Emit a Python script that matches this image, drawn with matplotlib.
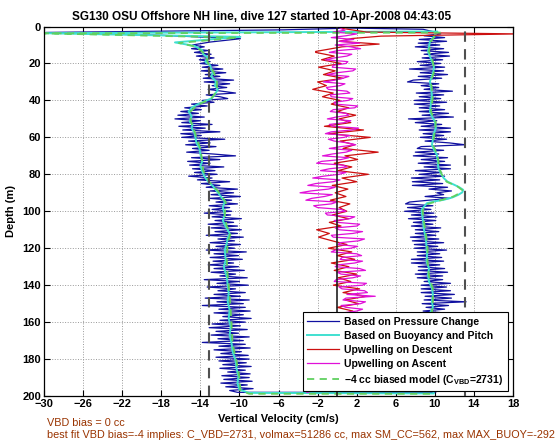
import numpy as np
import matplotlib
matplotlib.use("Agg")
import matplotlib.pyplot as plt

plt.rcParams['font.family'] = ['Liberation Sans', 'DejaVu Sans']
plt.rcParams['mathtext.fontset'] = 'custom'
plt.rcParams['mathtext.rm'] = 'Liberation Sans:bold'
plt.rcParams['mathtext.it'] = 'Liberation Sans:bold'
plt.rcParams['mathtext.bf'] = 'Liberation Sans:bold'

title = "SG130 OSU Offshore NH line, dive 127 started 10-Apr-2008 04:43:05"
note1 = "VBD bias = 0 cc"
note2 = ("best fit VBD bias=-4 implies: C_VBD=2731, volmax=51286 cc, "
         "max SM_CC=562, max MAX_BUOY=-292")
labels = ["Based on Pressure Change", "Based on Buoyancy and Pitch",
          "Upwelling on Descent", "Upwelling on Ascent",
          "\u22124 cc biased model (C$_{\\mathrm{VBD}}$=2731)"]
xticks = list(range(-30, 19, 4))
yticks = list(range(0, 201, 20))
bias_limit = 13.1

# pressure-change speed, descent (depth m, cm/s)
top_desc_d = [1.0, 1.8, 3.2, 4.8, 6.6, 8.4]
top_desc_v = [0.3, -5.5, -29.8, -17.8, -9.9, -13.0]
desc_d = list(range(10, 199))
desc_v = [-14.8, -13.6, -14.9, -13.2, -14.6, -12.9, -14.4, -12.6, -14.1, -13.0,
          -14.0, -12.2, -13.8, -11.7, -13.9, -11.4, -13.5, -12.0, -13.7, -10.6,
          -13.6, -11.0, -12.8, -11.3, -13.2, -11.8, -10.4, -13.4, -12.0, -11.2,
          -13.8, -12.6, -14.9, -13.3, -15.6, -13.9, -16.0, -14.2, -16.3, -13.6,
          -16.6, -14.0, -15.9, -12.8, -16.2, -13.5, -15.8, -12.0, -16.0, -13.9,
          -15.9, -11.5, -15.2, -13.0, -15.5, -12.4, -14.8, -13.1, -15.4, -12.7,
          -10.4, -14.9, -12.0, -15.3, -13.0, -15.1, -11.6, -14.8, -12.5, -14.6,
          -12.3, -15.2, -12.8, -14.3, -11.0, -13.9, -12.0, -13.4, -10.2, -13.0,
          -10.6, -12.9, -9.9, -13.0, -10.8, -12.4, -10.2, -13.1, -11.0, -12.8,
          -10.8, -13.6, -10.9, -12.8, -9.8, -12.5, -10.6, -13.2, -10.2, -12.9,
          -9.8, -12.5, -10.2, -13.4, -9.6, -12.2, -10.5, -13.0, -9.9, -12.4,
          -10.5, -13.4, -9.3, -12.6, -10.1, -13.0, -9.7, -12.7, -10.6, -13.2,
          -10.1, -12.6, -9.5, -12.9, -10.4, -12.0, -9.2, -13.6, -10.0, -12.3,
          -9.1, -13.3, -10.4, -12.2, -9.4, -12.6, -9.9, -13.5, -9.0, -12.3,
          -9.6, -13.8, -9.4, -12.1, -8.9, -12.6, -9.6, -11.7, -8.8, -12.0,
          -9.4, -12.8, -9.9, -13.1, -9.2, -12.4, -10.1, -12.9, -9.0, -12.2,
          -9.6, -13.8, -9.4, -12.1, -8.9, -12.6, -9.8, -11.9, -9.1, -12.4,
          -9.0, -12.1, -9.3, -11.7, -8.8, -12.0, -9.4, -11.2, -8.9, -11.8,
          -9.0, -11.6, -8.7, -11.9, -9.2, -11.4, -8.6, -11.0, -10.2]

# pressure-change speed, ascent (listed top to bottom)
asc_d = [0.8, 1.5, 3.0] + list(range(4, 199))
asc_v = [1.0, 8.8, 10.0,
         10.6, 8.9, 11.0, 8.4, 11.2, 8.3, 10.5, 8.0, 10.9, 8.6,
         11.4, 8.9, 11.5, 8.7, 10.8, 8.2, 10.6, 8.5, 11.0, 7.4,
         10.9, 8.5, 11.3, 8.3, 10.7, 7.8, 7.2, 10.4, 8.6, 10.4,
         8.9, 11.8, 8.1, 10.9, 8.4, 10.6, 7.9, 11.2, 7.9, 10.5,
         8.4, 11.0, 8.4, 11.4, 8.7, 11.9, 7.3, 10.2, 8.0, 10.7,
         8.6, 11.6, 8.4, 11.6, 8.8, 10.9, 8.5, 11.2, 9.0, 11.5,
         13.1, 8.6, 8.2, 10.9, 8.0, 10.4, 7.8, 11.3, 8.6, 11.0,
         8.3, 11.6, 8.9, 11.6, 8.0, 10.7, 8.4, 11.0, 7.6, 10.5,
         7.7, 10.8, 7.7, 11.3, 9.4, 11.7, 10.2, 10.9, 9.0, 11.6,
         9.4, 7.4, 7.0, 9.8, 7.2, 9.6, 6.9, 9.9, 7.6, 10.2,
         7.3, 10.1, 7.8, 9.8, 7.6, 10.6, 8.0, 10.4, 8.0, 10.1,
         7.5, 10.4, 7.7, 10.9, 7.9, 10.3, 7.9, 11.2, 8.2, 10.5,
         8.2, 10.7, 7.6, 10.9, 7.6, 10.5, 8.3, 11.0, 8.3, 11.3,
         8.0, 10.8, 8.2, 10.8, 8.9, 11.6, 8.6, 11.2, 8.6, 11.6,
         8.6, 12.0, 9.0, 11.7, 8.9, 13.2, 8.7, 11.4, 9.1, 11.0,
         8.8, 10.9, 8.6, 11.2, 8.9, 10.7, 8.5, 11.1, 9.0, 10.8,
         8.7, 11.0, 9.1, 10.6, 8.8, 10.9, 9.2, 10.5, 9.0, 10.8,
         8.6, 11.1, 8.9, 10.7, 8.8, 11.2, 9.0, 10.6, 8.7, 11.0,
         9.1, 10.6, 8.8, 10.9, 9.2, 10.5, 8.9, 10.8, 9.0, 10.6,
         9.2, 10.5, 9.0, 10.4, 10.0]

# buoyancy/pitch speed
cyan_desc_d = [2.7, 3.6, 5.6, 8.6, 10.5, 12.8, 15, 17, 19, 21, 23, 25, 27, 29.7,
               32, 34.2, 36.5, 38.8, 40.5, 42.4, 44, 46, 48.5, 51.4, 53, 55,
               57.5, 60.4, 63, 65.8, 69, 73, 75.5, 78.4, 81, 83.9, 86.5, 89.3,
               92, 94.7, 98, 101.9, 105, 108.4, 112, 114.5, 117.4, 121, 126.4,
               130, 135.5, 140, 144.5, 149, 153.5, 158, 162.5, 167, 171.6, 176,
               180.6, 185, 189.6, 193, 196.5, 198.3]
cyan_desc_v = [10.2, -30.0, -9.9, -16.6, -14.6, -13.8, -13.7, -13.2, -13.5, -13.0,
               -12.9, -12.7, -12.9, -12.4, -12.5, -12.2, -12.5, -12.8, -13.6,
               -14.4, -14.9, -15.2, -14.9, -15.1, -14.8, -14.9, -14.6, -14.5,
               -14.4, -14.1, -14.0, -13.8, -14.0, -13.8, -13.6, -13.2, -12.7,
               -12.3, -11.9, -11.5, -11.7, -11.5, -11.7, -11.4, -11.0, -11.2,
               -11.3, -11.5, -11.4, -11.6, -11.3, -11.2, -11.1, -11.2, -11.0,
               -11.1, -10.9, -11.0, -10.8, -10.7, -10.4, -10.3, -10.1, -10.2,
               -10.0, -9.0]
cyan_asc_d = [198.6, 194, 188, 182, 176, 170, 164, 158, 155.1, 152, 148.8, 145,
              141.6, 138, 134.4, 131, 127.2, 123.5, 120, 116, 112.7, 109, 105.5,
              102, 99.2, 97.4, 95.6, 94.6, 93.8, 92.5, 91.1, 89.8, 88.4, 87,
              85.7, 84, 82, 79.3, 76.6, 73, 69.4, 66.7, 64, 61.3, 58.6, 55,
              51.4, 48.7, 46, 41.5, 37, 33.3, 29.7, 27, 24.3, 21.6, 18.9, 16.2,
              13.5, 10.8, 8.1, 6.3, 4.5, 3.2]
cyan_asc_v = [9.9, 9.7, 9.8, 9.6, 9.8, 9.6, 9.7, 9.5, 9.5, 9.8, 9.7, 9.8, 9.7,
              9.4, 9.3, 9.4, 9.15, 9.2, 9.15, 9.1, 9.0, 8.85, 8.8, 8.7, 8.65,
              8.9, 9.2, 10.0, 10.9, 11.8, 12.4, 12.8, 12.9, 12.5, 12.0, 11.3,
              10.9, 10.6, 10.35, 10.3, 10.2, 9.9, 9.7, 9.8, 9.85, 10.1, 10.0,
              9.7, 9.5, 9.6, 9.7, 9.6, 9.5, 9.7, 9.85, 9.9, 9.7, 9.5, 9.3, 9.4,
              9.5, 9.8, 10.0, 10.3]

# upwelling on descent
red_d = [1.0, 3.0, 4.0, 5.2, 6.5, 8.0, 9.5, 11.0, 13.5] + list(range(14, 155, 2)) + \
        [156, 160, 164, 168, 172, 176, 178, 180, 184, 188, 192, 196]
red_v = [0.5, 3.0, 18.5, 4.5, 1.5, 0.2, 4.3, 0.5, -2.2,
         -2.2, -0.3, -1.6, 0.4, -1.9, -0.2, -1.4, 0.6, -2.0, -1.1,
         -2.5, -0.4, -1.5, 0.3, -0.6, 1.2, 0.0, 1.9, 0.2, 1.4,
         -1.3, 2.7, -0.9, 3.4, 0.3, 1.8, 0.6, 4.2, 0.8, 2.1,
         -0.3, 1.5, 0.1, 3.2, 0.5, 2.0, -0.5, 1.1, -0.2, 0.9,
         -0.7, 1.3, 0.2, 1.0, -0.5, 1.2, -0.8, 0.4, -2.1, -0.8,
         -1.9, -0.5, 1.0, -0.9, 1.5, 0.0, 1.8, -0.6, 1.2, -0.3,
         2.0, 0.1, 1.4, -0.4, 2.3, 0.6, 3.0, 0.8, 2.2, 0.0, 1.6,
         0.5, 1.0, 0.2, 0.8, -0.5, -1.5, -3.3, -1.0, 0.5, 0.0, 0.6, 0.2]

# upwelling on ascent
mag_d = list(range(1, 157)) + [160, 164, 168, 172, 176, 180, 184, 188, 192, 196, 198]
mag_v = [0.3, 0.8, -0.4, 2.0, 0.9, -0.6, 1.7, 0.2, 2.3, -0.2,
         1.4, 2.4, 0.1, -0.8, 1.5, 1.0, -0.3, -1.2, 1.1, 0.9,
         -0.4, -0.5, 1.9, 1.6, 0.0, -1.0, 1.2, 0.6, -0.2, -1.4,
         0.8, 0.3, -1.1, -0.9, 1.0, 1.3, -0.7, -0.6, 1.6, 1.1,
         -0.3, -0.2, 2.1, 1.8, -0.4, -0.7, 0.9, 1.2, -0.1, -1.0,
         1.4, 0.8, -0.8, -0.4, 2.2, 1.5, -0.6, -1.2, 1.3, 0.7,
         -0.9, -0.3, 1.1, 1.9, 0.4, -0.8, 1.5, 0.9, -0.5, -1.5,
         1.2, 0.4, -1.6, -2.1, 0.6, 1.0, -0.8, -1.7, 0.9, 0.2,
         -1.4, -2.5, 0.3, -0.4, -2.2, -3.0, -0.2, -0.9, -2.7, -3.8,
         -0.5, -1.3, -2.6, -3.2, 0.0, -0.6, -2.4, -2.0, 0.4, 0.9,
         -1.2, -1.0, 1.8, 1.3, -0.3, 0.0, 2.3, 2.0, -0.2, 0.2,
         2.6, 1.6, -0.6, -0.4, 2.8, 2.2, 0.3, 0.1, 2.1, 1.4,
         -0.2, -0.6, 2.0, 2.5, 0.5, 0.3, 2.6, 1.8, 0.1, -0.2,
         2.3, 2.9, 0.0, 0.4, 2.4, 1.6, -0.1, -0.3, 3.0, 2.6,
         0.2, 0.5, 2.8, 3.1, 1.0, 3.9, 0.9, 0.6, 2.9, 2.4,
         0.4, 0.9, 2.6, 2.0, 0.6, 0.2,
         1.5, 0.3, 1.2, -0.2, 1.0, 0.0, 0.8, -0.5, 0.6, -1.5, -3.1]

# -4 cc biased model
model_d = [3.3, 3.7, 6.0, 8.9, 11, 15, 20, 25, 30, 35, 39, 42.5, 46, 51, 55, 60,
           66, 73, 78, 84, 89, 95, 102, 108, 112, 117, 126, 135, 145, 153, 162,
           172, 181, 190, 197, 198.8,
           198.8, 190, 180, 170, 160, 150, 142, 135, 127, 120, 113, 106, 99.5,
           96, 94, 92, 90, 88.5, 86.5, 84, 80, 76.5, 70, 64, 58.5, 52, 46, 38,
           30, 24, 19, 13.5, 8, 4.5]
model_v = [10.6, -30.0, -10.2, -16.2, -14.4, -13.5, -13.2, -12.6, -12.3, -12.3,
           -12.9, -14.3, -15.0, -15.0, -14.7, -14.4, -14.0, -13.8, -13.7, -13.1,
           -12.2, -11.4, -11.5, -11.3, -10.9, -11.2, -11.3, -11.2, -11.0, -10.9,
           -10.8, -10.7, -10.3, -10.0, -9.9, -9.0,
           9.8, 9.8, 9.7, 9.7, 9.6, 9.8, 9.8, 9.4, 9.25, 9.25, 9.1, 8.9, 8.75,
           9.3, 10.6, 11.9, 12.6, 12.8, 12.3, 11.2, 10.7, 10.45, 10.3, 9.8,
           9.95, 10.1, 9.6, 9.8, 9.6, 9.95, 9.8, 9.4, 9.6, 10.1]

blue_d = top_desc_d + desc_d + asc_d[::-1]
blue_v = top_desc_v + desc_v + asc_v[::-1]
cyan_d = cyan_desc_d + cyan_asc_d
cyan_v = cyan_desc_v + cyan_asc_v

fig = plt.figure(figsize=(5.6, 4.42), dpi=100)
ax = fig.add_axes([0.0786, 0.104, 0.8375, 0.836])

ax.plot(blue_v, blue_d, color='#1010a0', lw=0.9, label=labels[0])
ax.plot(cyan_v, cyan_d, color='#40e0d0', lw=1.4, label=labels[1])
ax.plot(red_v, red_d, color='#cc1010', lw=0.9, label=labels[2])
ax.plot(mag_v, mag_d, color='#e010d8', lw=0.9, label=labels[3])
ax.plot(model_v, model_d, color='#60d060', lw=1.3, ls=(0, (4, 3)), label=labels[4])

ax.axvline(0, color='#202020', lw=1.2, zorder=5)
for b in (-bias_limit, bias_limit):
    ax.axvline(b, color='#505050', lw=1.5, ls=(0, (5, 3.5)), zorder=5)

ax.set_xlim(-30, 18)
ax.set_ylim(200, 0)
ax.set_xticks(xticks)
ax.set_yticks(yticks)
ax.grid(True, ls=':', color='#999999', lw=0.7)
ax.tick_params(direction='in', top=True, right=True, length=4, width=0.8,
               labelsize=8, pad=2)
for lab in ax.get_xticklabels() + ax.get_yticklabels():
    lab.set_fontweight('bold')
for sp in ax.spines.values():
    sp.set_linewidth(0.9)

ax.set_title(title, fontsize=8.5, fontweight='bold', pad=5, x=0.463)
ax.set_xlabel("Vertical Velocity (cm/s)", fontsize=8, fontweight='bold', labelpad=4)
ax.set_ylabel("Depth (m)", fontsize=8, fontweight='bold', labelpad=5)

leg = ax.legend(loc='lower right', bbox_to_anchor=(0.989, 0.0135), borderaxespad=0,
                fancybox=False, framealpha=1, edgecolor='black',
                prop={'weight': 'bold', 'size': 7.5}, handlelength=3.1,
                labelspacing=0.38, borderpad=0.42, handletextpad=0.5)
leg.get_frame().set_linewidth(0.8)

fig.text(47 / 560, 1 - 423 / 442, note1, color='#993300', fontsize=7.8, va='center')
fig.text(47 / 560, 1 - 434.5 / 442, note2, color='#993300', fontsize=7.8, va='center')

fig.savefig("out.png", dpi=100)
